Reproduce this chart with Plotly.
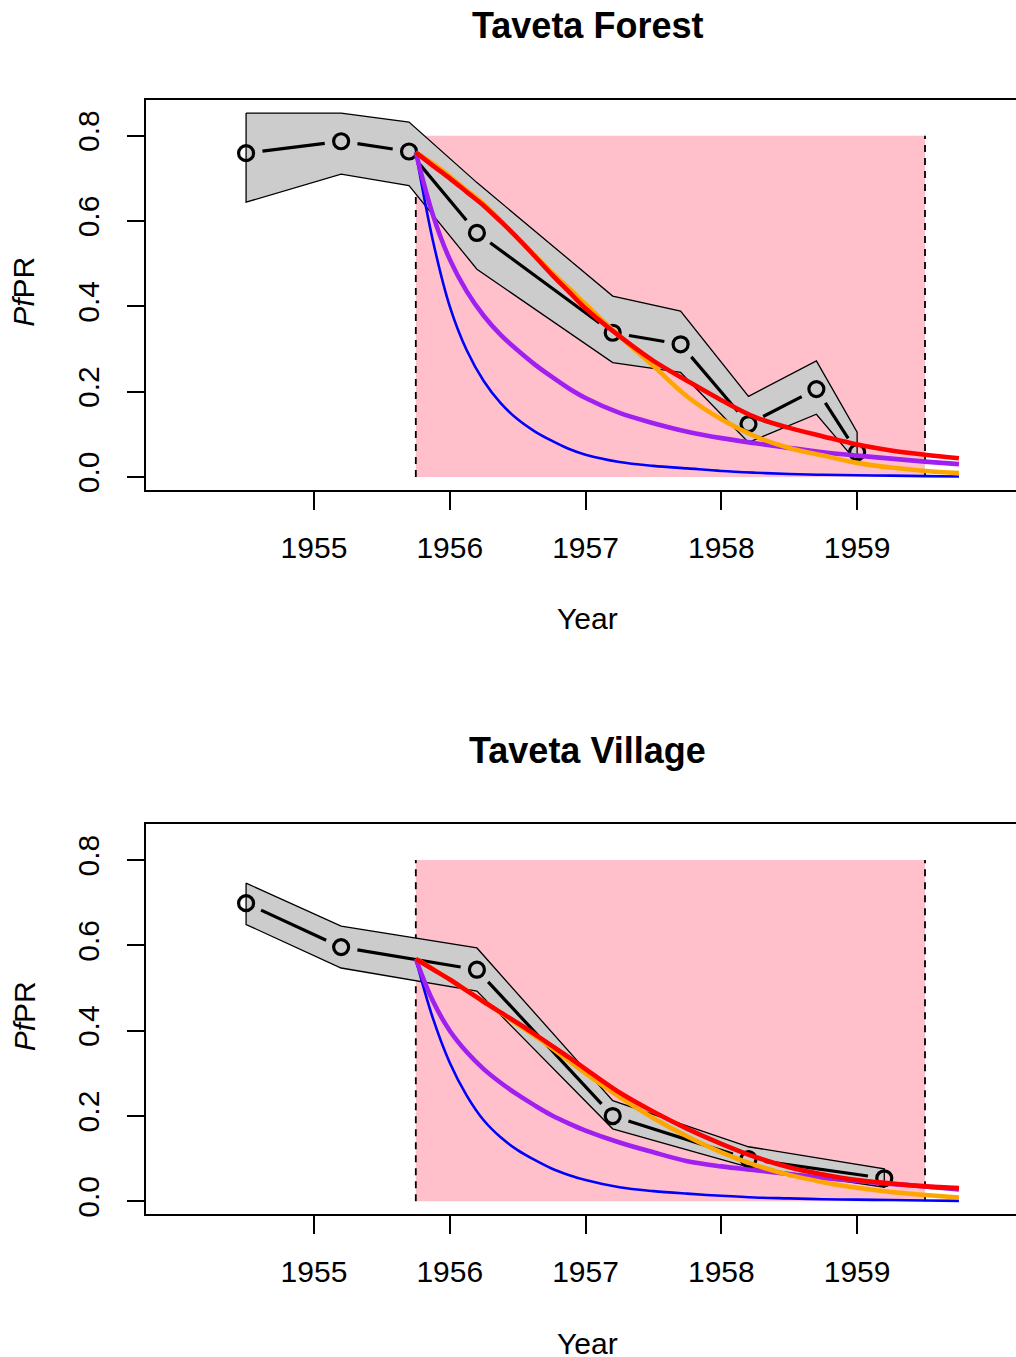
import plotly.graph_objects as go
import math

W, H = 1016, 1357

# ---------------- data ----------------
# Taveta Forest survey points (year, PfPR, 95% CI)
forest_year = [1954.5, 1955.2, 1955.7, 1956.2, 1957.2, 1957.7, 1958.2, 1958.7, 1959.0]
forest_pfpr = [0.759, 0.787, 0.763, 0.572, 0.338, 0.311, 0.124, 0.206, 0.058]
forest_upper = [0.853, 0.853, 0.832, 0.690, 0.424, 0.389, 0.189, 0.272, 0.105]
forest_lower = [0.644, 0.710, 0.683, 0.487, 0.268, 0.245, 0.081, 0.147, 0.034]

# Taveta Village survey points
village_year = [1954.5, 1955.2, 1956.2, 1957.2, 1958.2, 1959.2]
village_pfpr = [0.699, 0.596, 0.543, 0.200, 0.099, 0.054]
village_upper = [0.746, 0.645, 0.594, 0.236, 0.128, 0.076]
village_lower = [0.649, 0.547, 0.493, 0.170, 0.080, 0.033]

# model curves
model_year = [1955.75, 1955.875, 1956.0, 1956.125, 1956.25, 1956.375, 1956.5, 1956.625,
              1956.75, 1956.875, 1957.0, 1957.25, 1957.5, 1957.75, 1958.0, 1958.25,
              1958.5, 1958.75, 1959.0, 1959.25, 1959.5, 1959.75]

forest_blue = [0.761, 0.555, 0.400, 0.297, 0.225, 0.173, 0.135, 0.107, 0.085, 0.066, 0.052,
               0.035, 0.026, 0.020, 0.014, 0.010, 0.007, 0.005, 0.004, 0.003, 0.002, 0.001]
forest_purple = [0.761, 0.615, 0.510, 0.435, 0.378, 0.333, 0.297, 0.264, 0.235, 0.208, 0.185,
                 0.150, 0.126, 0.106, 0.091, 0.079, 0.068, 0.058, 0.050, 0.043, 0.036, 0.030]
forest_orange = [0.761, 0.735, 0.705, 0.672, 0.640, 0.601, 0.560, 0.520, 0.480, 0.443, 0.405,
                 0.330, 0.260, 0.188, 0.135, 0.095, 0.068, 0.050, 0.033, 0.022, 0.014, 0.009]
forest_red = [0.761, 0.730, 0.700, 0.668, 0.636, 0.599, 0.560, 0.518, 0.475, 0.435, 0.395,
              0.330, 0.272, 0.225, 0.180, 0.140, 0.115, 0.095, 0.076, 0.062, 0.052, 0.044]

village_blue = [0.568, 0.430, 0.325, 0.248, 0.190, 0.150, 0.120, 0.097, 0.077, 0.062, 0.050,
                0.033, 0.024, 0.018, 0.013, 0.009, 0.007, 0.005, 0.004, 0.003, 0.002, 0.001]
village_purple = [0.568, 0.470, 0.400, 0.350, 0.310, 0.278, 0.250, 0.225, 0.202, 0.183, 0.166,
                  0.138, 0.115, 0.094, 0.082, 0.073, 0.064, 0.055, 0.048, 0.041, 0.035, 0.028]
village_orange = [0.568, 0.545, 0.520, 0.494, 0.468, 0.442, 0.415, 0.388, 0.360, 0.330, 0.300,
                  0.245, 0.195, 0.152, 0.115, 0.085, 0.062, 0.045, 0.032, 0.022, 0.015, 0.009]
village_red = [0.568, 0.544, 0.520, 0.494, 0.468, 0.443, 0.418, 0.392, 0.365, 0.338, 0.310,
               0.255, 0.210, 0.170, 0.135, 0.104, 0.080, 0.063, 0.050, 0.042, 0.035, 0.031]

treat_start, treat_end, shade_top = 1955.75, 1959.5, 0.8

x_ticks = [1955, 1956, 1957, 1958, 1959]
y_ticks = [0.0, 0.2, 0.4, 0.6, 0.8]
y_ticktext = ["0.0", "0.2", "0.4", "0.6", "0.8"]

titles = ["Taveta Forest", "Taveta Village"]

# ---------------- layout geometry ----------------
X_RANGE = [1953.763, 1960.17]
Y_RANGE = [-0.0304, 0.8842]
plot_left, plot_right = 146, 1016
panels_px = [(100, 491), (826, 1217)]  # top, bottom pixel of each plot box
sx = (plot_right - plot_left) / (X_RANGE[1] - X_RANGE[0])
sy = (panels_px[0][1] - panels_px[0][0]) / (Y_RANGE[1] - Y_RANGE[0])

FONT = "Liberation Sans, Arial, Helvetica, sans-serif"


def gapped_segments(xs, ys, gap_px=16.5):
    """Line segments between consecutive points with R type='b' style gaps."""
    gx, gy = [], []
    for i in range(len(xs) - 1):
        dx = (xs[i + 1] - xs[i]) * sx
        dy = (ys[i + 1] - ys[i]) * sy
        L = math.hypot(dx, dy)
        if L <= 2 * gap_px:
            continue
        f = gap_px / L
        gx += [xs[i] + f * (xs[i + 1] - xs[i]), xs[i + 1] - f * (xs[i + 1] - xs[i]), None]
        gy += [ys[i] + f * (ys[i + 1] - ys[i]), ys[i + 1] - f * (ys[i + 1] - ys[i]), None]
    return gx, gy


fig = go.Figure()

datasets = [
    (forest_year, forest_pfpr, forest_upper, forest_lower,
     [forest_blue, forest_purple, forest_orange, forest_red]),
    (village_year, village_pfpr, village_upper, village_lower,
     [village_blue, village_purple, village_orange, village_red]),
]
curve_colors = ["#0000FF", "#A020F0", "#FFA500", "#FF0000"]
curve_widths = [2.6, 4.6, 4.6, 4.6]

shapes = []
annotations = []
for k, (yr, p, up, lo, curves) in enumerate(datasets):
    xa = "x" if k == 0 else "x2"
    ya = "y" if k == 0 else "y2"
    # CI band
    fig.add_trace(go.Scatter(
        x=list(yr) + list(yr)[::-1] + [yr[0]],
        y=list(up) + list(lo)[::-1] + [up[0]],
        mode="lines", fill="toself", fillcolor="#CCCCCC",
        line=dict(color="black", width=1.3), xaxis=xa, yaxis=ya,
        hoverinfo="skip", showlegend=False))
    # data line with gaps
    gx, gy = gapped_segments(yr, p)
    fig.add_trace(go.Scatter(x=gx, y=gy, mode="lines",
                             line=dict(color="black", width=3.2),
                             xaxis=xa, yaxis=ya, showlegend=False))
    fig.add_trace(go.Scatter(x=yr, y=p, mode="markers",
                             marker=dict(symbol="circle-open", size=15, color="black",
                                         line=dict(color="black", width=3.2)),
                             xaxis=xa, yaxis=ya, showlegend=False))
    for c, col, w in zip(curves, curve_colors, curve_widths):
        fig.add_trace(go.Scatter(x=model_year, y=c, mode="lines",
                                 line=dict(color=col, width=w, shape="spline", smoothing=1.0),
                                 xaxis=xa, yaxis=ya, showlegend=False))
    # pink treatment period and dashed boundaries
    shapes.append(dict(type="rect", xref=xa, yref=ya, x0=treat_start, x1=treat_end,
                       y0=0, y1=shade_top, fillcolor="#FFC0CB", line=dict(width=0),
                       layer="below"))
    for xv in (treat_start, treat_end):
        shapes.append(dict(type="line", xref=xa, yref=ya, x0=xv, x1=xv, y0=0, y1=shade_top,
                           line=dict(color="black", width=1.8, dash="7px,6px"),
                           layer="below"))
    off = 726 * k
    annotations.append(dict(text="<b>%s</b>" % titles[k], xref="paper", yref="paper",
                            x=587.5 / W, y=1 - (26 + off) / H, showarrow=False,
                            xanchor="center", yanchor="middle",
                            font=dict(family=FONT, size=36, color="black")))
    annotations.append(dict(text="Year", xref="paper", yref="paper",
                            x=587.5 / W, y=1 - (620 + off) / H, showarrow=False,
                            xanchor="center", yanchor="middle",
                            font=dict(family=FONT, size=30, color="black")))
    annotations.append(dict(text="<i>Pf</i>PR", xref="paper", yref="paper",
                            x=24 / W, y=1 - (292.5 + off) / H, showarrow=False,
                            textangle=-90, xanchor="center", yanchor="middle",
                            font=dict(family=FONT, size=30, color="black")))

xdom = [plot_left / W, 1.0]
axis_common = dict(showgrid=False, zeroline=False, showline=True, linecolor="black",
                   linewidth=2, ticks="outside", tickcolor="black", tickwidth=2,
                   tickfont=dict(family=FONT, size=30, color="black"))

layout_axes = {}
for k, (top_px, bot_px) in enumerate(panels_px):
    sfx = "" if k == 0 else "2"
    ydom = [1 - bot_px / H, 1 - top_px / H]
    layout_axes["xaxis" + sfx] = dict(axis_common, domain=xdom, range=X_RANGE,
                                      anchor="y" + sfx, tickvals=x_ticks,
                                      ticktext=[str(v) for v in x_ticks],
                                      ticklen=18, mirror=True, ticklabelstandoff=12)
    layout_axes["yaxis" + sfx] = dict(axis_common, domain=ydom, range=Y_RANGE,
                                      anchor="x" + sfx, tickvals=y_ticks,
                                      ticktext=y_ticktext, ticklen=17, tickangle=-90,
                                      ticklabelstandoff=16)

fig.update_layout(width=W, height=H, margin=dict(l=0, r=0, t=0, b=0),
                  paper_bgcolor="white", plot_bgcolor="white",
                  shapes=shapes, annotations=annotations, showlegend=False,
                  **layout_axes)

fig.write_html("out.html", config={"displayModeBar": False},
               post_script="document.body.style.margin='0px';document.body.style.padding='0px';")
